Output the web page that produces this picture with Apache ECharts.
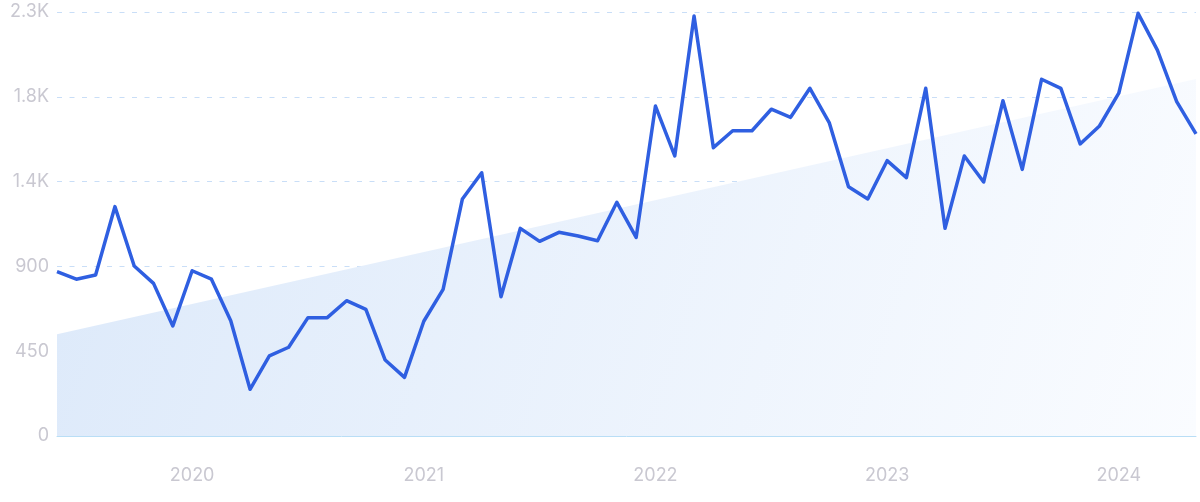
<!DOCTYPE html>
<html>
<head>
<meta charset="utf-8">
<script src="https://cdn.jsdelivr.net/npm/echarts@6/dist/echarts.min.js"></script>
<style>
html,body{margin:0;padding:0;background:#fff;}
#c{width:1200px;height:502px;}
</style>
</head>
<body>
<div id="c"></div>
<script>
const months = [
  '2019-06','2019-07','2019-08','2019-09','2019-10','2019-11','2019-12',
  '2020-01','2020-02','2020-03','2020-04','2020-05','2020-06','2020-07','2020-08','2020-09','2020-10','2020-11','2020-12',
  '2021-01','2021-02','2021-03','2021-04','2021-05','2021-06','2021-07','2021-08','2021-09','2021-10','2021-11','2021-12',
  '2022-01','2022-02','2022-03','2022-04','2022-05','2022-06','2022-07','2022-08','2022-09','2022-10','2022-11','2022-12',
  '2023-01','2023-02','2023-03','2023-04','2023-05','2023-06','2023-07','2023-08','2023-09','2023-10','2023-11','2023-12',
  '2024-01','2024-02','2024-03','2024-04','2024-05'
];
const values = [
  872, 832, 854, 1217, 902, 810, 584,
  877, 832, 612, 248, 425, 471, 628, 628, 718, 672, 403, 311,
  609, 778, 1258, 1397, 739, 1102, 1033, 1081, 1061, 1036, 1240, 1054,
  1751, 1486, 2229, 1530, 1620, 1620, 1734, 1691, 1845, 1663, 1323, 1258,
  1461, 1371, 1845, 1102, 1486, 1348, 1779, 1415, 1893, 1845, 1550, 1645,
  1819, 2243, 2048, 1774, 1603
];
const trendStart = 540;
const trendEnd = 1895;
const yTickValues = [0, 450, 900, 1350, 1800, 2250];
const yTickLabels = ['0', '450', '900', '1.4K', '1.8K', '2.3K'];
const xTickLabels = ['2020', '2021', '2022', '2023', '2024'];

const chart = echarts.init(document.getElementById('c'), null, {renderer: 'canvas'});
const labelColor = '#c9c8d1';
const font = 'Inter, "Noto Sans", sans-serif';

chart.setOption({
  animation: false,
  backgroundColor: '#ffffff',
  grid: {left: 57, right: 4, top: 12, bottom: 66, containLabel: false},
  xAxis: [
    {
      type: 'category',
      data: months,
      boundaryGap: false,
      axisLine: {show: true, lineStyle: {color: '#b9def6', width: 1}},
      axisTick: {show: false},
      splitLine: {show: false},
      axisLabel: {
        color: labelColor,
        fontSize: 18,
        fontFamily: font,
        margin: 31,
        interval: function (i, v) { return v.endsWith('-01'); },
        formatter: function (v) {
          const y = v.slice(0, 4);
          return xTickLabels.indexOf(y) >= 0 ? y : '';
        }
      }
    },
    {
      type: 'value',
      min: 0,
      max: months.length - 1,
      show: false
    }
  ],
  yAxis: {
    type: 'value',
    min: 0,
    max: 2250,
    interval: 450,
    axisLine: {show: false},
    axisTick: {show: false},
    axisLabel: {
      color: labelColor,
      fontSize: 18,
      fontFamily: font,
      margin: 8,
      formatter: function (v) {
        const i = yTickValues.indexOf(v);
        return i >= 0 ? yTickLabels[i] : '';
      }
    },
    splitLine: {
      show: true,
      lineStyle: {color: '#c9def7', width: 1, type: [5, 7.5]}
    }
  },
  series: [
    {
      type: 'line',
      xAxisIndex: 1,
      data: [[0, trendStart], [months.length - 1, trendEnd]],
      symbol: 'none',
      lineStyle: {width: 0},
      areaStyle: {
        opacity: 1,
        color: new echarts.graphic.LinearGradient(0, 0, 1, 1, [
          {offset: 0, color: '#dce9fa'},
          {offset: 1, color: '#fafcff'}
        ])
      },
      z: 1,
      silent: true
    },
    {
      type: 'line',
      data: values,
      symbol: 'none',
      lineStyle: {color: '#2f5fe1', width: 3.5, join: 'round'},
      z: 3
    }
  ]
});
</script>
</body>
</html>
